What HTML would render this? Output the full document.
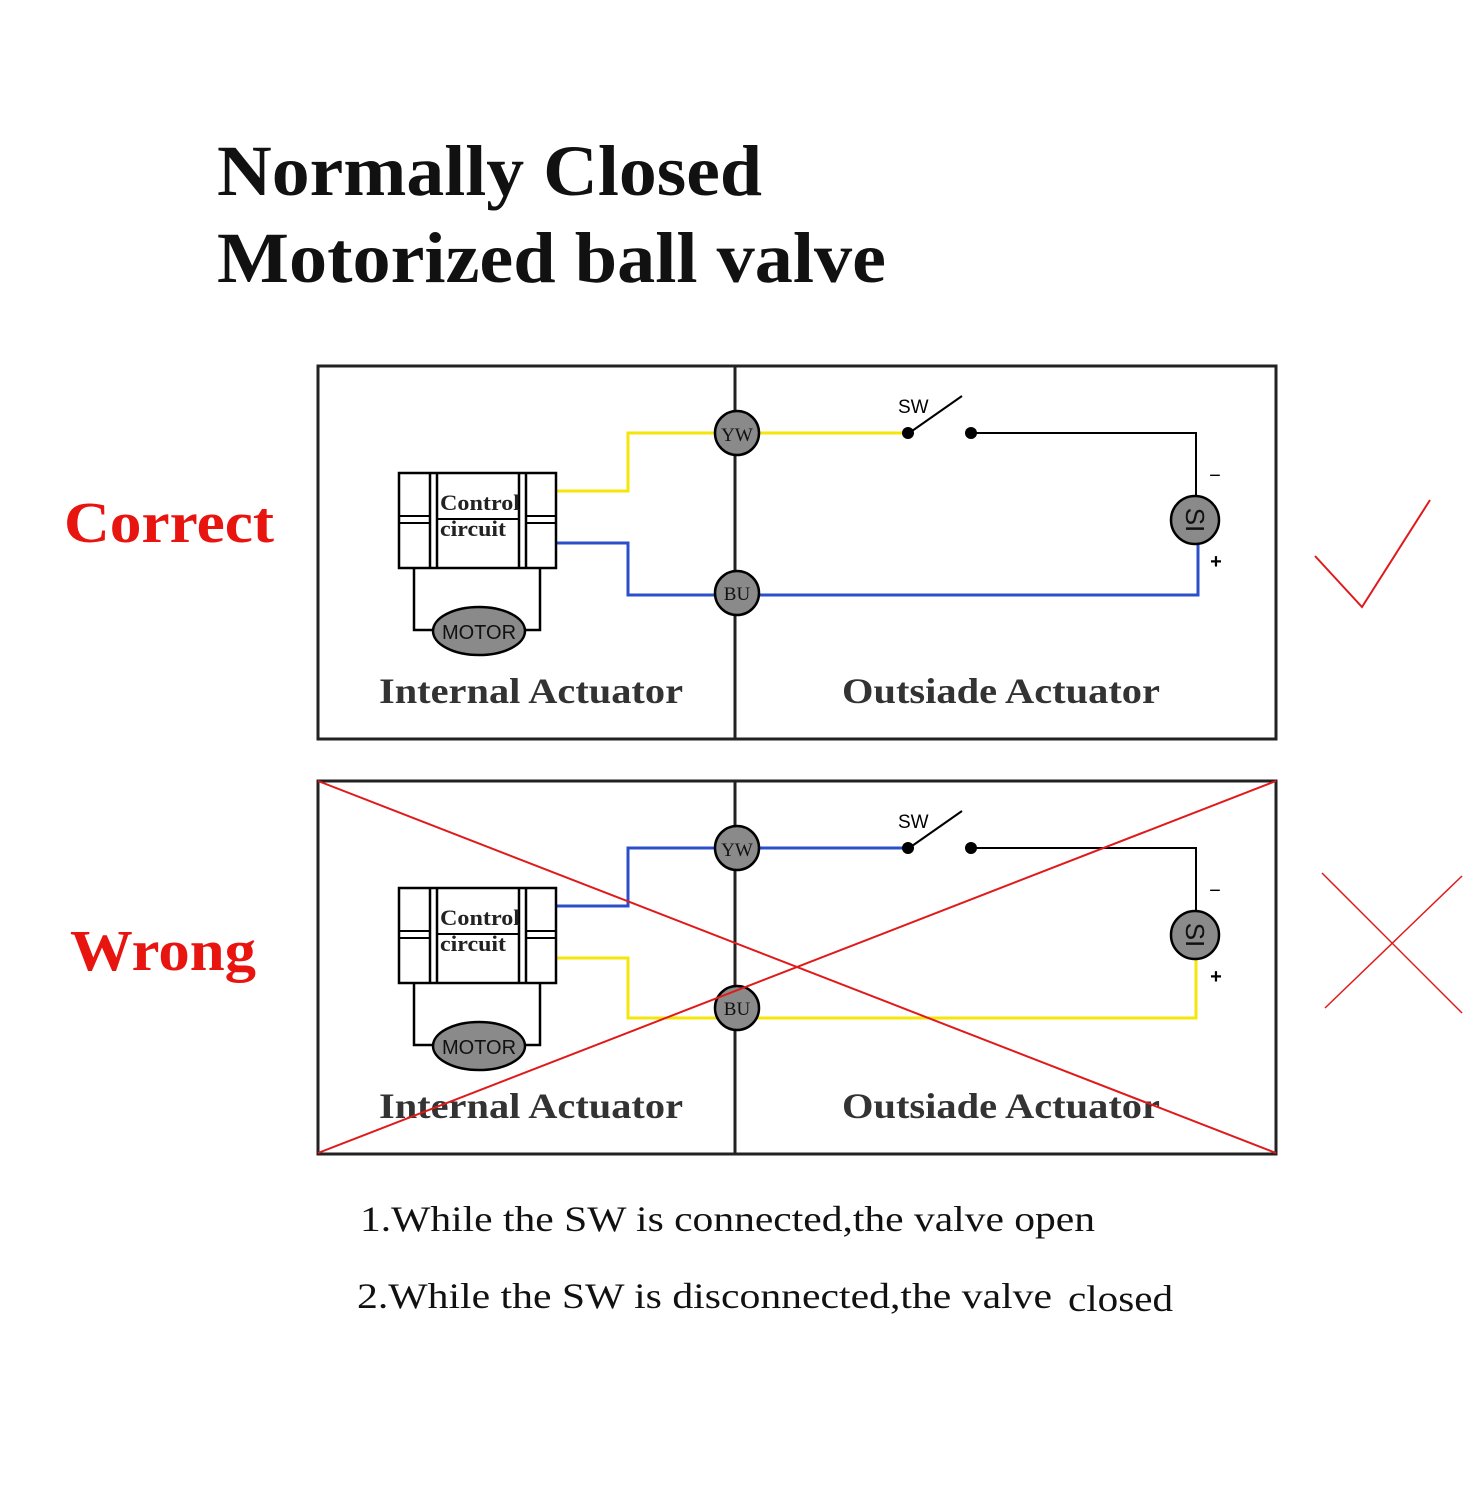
<!DOCTYPE html>
<html><head><meta charset="utf-8"><style>html,body{margin:0;padding:0;background:#fff}svg{display:block}</style></head>
<body>
<svg width="1466" height="1500" viewBox="0 0 1466 1500" xmlns="http://www.w3.org/2000/svg" font-family="Liberation Serif, serif">
<defs>
<g id="comp">
  <rect x="399" y="473" width="157" height="95" fill="#fff" stroke="#000" stroke-width="2.5"/>
  <line x1="430" y1="473" x2="430" y2="568" stroke="#000" stroke-width="2.5"/>
  <line x1="437" y1="473" x2="437" y2="568" stroke="#000" stroke-width="2.5"/>
  <line x1="519" y1="473" x2="519" y2="568" stroke="#000" stroke-width="2.5"/>
  <line x1="526" y1="473" x2="526" y2="568" stroke="#000" stroke-width="2.5"/>
  <line x1="437" y1="519" x2="519" y2="519" stroke="#000" stroke-width="2"/>
  <line x1="399" y1="516" x2="430" y2="516" stroke="#000" stroke-width="2"/>
  <line x1="399" y1="523" x2="430" y2="523" stroke="#000" stroke-width="2"/>
  <line x1="526" y1="516" x2="556" y2="516" stroke="#000" stroke-width="2"/>
  <line x1="526" y1="523" x2="556" y2="523" stroke="#000" stroke-width="2"/>
  <text x="440" y="510" font-size="22" font-weight="bold" fill="#222" textLength="80" lengthAdjust="spacingAndGlyphs">Control</text>
  <text x="440" y="536" font-size="22" font-weight="bold" fill="#222" textLength="66" lengthAdjust="spacingAndGlyphs">circuit</text>
  <polyline points="414,568 414,630 440,630" fill="none" stroke="#000" stroke-width="2.5"/>
  <polyline points="540,568 540,630 518,630" fill="none" stroke="#000" stroke-width="2.5"/>
  <ellipse cx="479" cy="631" rx="46" ry="24" fill="#8a8a8a" stroke="#000" stroke-width="2.5"/>
  <text x="479" y="639" font-size="20" text-anchor="middle" font-family="Liberation Sans, sans-serif" fill="#111">MOTOR</text>
</g>
<g id="right">
  <line x1="912" y1="431" x2="962" y2="396" stroke="#000" stroke-width="2"/>
  <text x="898" y="413" font-size="19" font-family="Liberation Sans, sans-serif">SW</text>
  <circle cx="908" cy="433" r="6" fill="#000"/>
  <circle cx="971" cy="433" r="6" fill="#000"/>
  <polyline points="971,433 1196,433 1196,498" fill="none" stroke="#000" stroke-width="2"/>
  <text x="1215" y="482" font-size="20" text-anchor="middle" font-family="Liberation Sans, sans-serif">−</text>
  <text x="1216" y="568" font-size="20" text-anchor="middle" font-family="Liberation Sans, sans-serif" font-weight="bold">+</text>
</g>
<g id="si">
  <circle cx="1195" cy="520" r="24" fill="#8a8a8a" stroke="#000" stroke-width="2.5"/>
  <text transform="translate(1195,520) rotate(90)" x="0" y="9" font-size="26" text-anchor="middle" font-family="Liberation Sans, sans-serif" fill="#111">SI</text>
</g>
</defs>

<text x="217" y="195" font-size="72" font-weight="bold" textLength="545" lengthAdjust="spacingAndGlyphs" fill="#111">Normally Closed</text>
<text x="217" y="282" font-size="72" font-weight="bold" textLength="669" lengthAdjust="spacingAndGlyphs" fill="#111">Motorized ball valve</text>

<text x="64" y="542" font-size="58" font-weight="bold" fill="#e8140f" textLength="210" lengthAdjust="spacingAndGlyphs">Correct</text>
<text x="70" y="970" font-size="58" font-weight="bold" fill="#e8140f" textLength="186" lengthAdjust="spacingAndGlyphs">Wrong</text>

<rect x="318" y="366" width="958" height="373" fill="none" stroke="#222" stroke-width="3"/>
<line x1="735" y1="366" x2="735" y2="739" stroke="#222" stroke-width="3"/>
<polyline points="556,491 628,491 628,433 908,433" fill="none" stroke="#f5e60a" stroke-width="3"/>
<polyline points="556,543 628,543 628,595 1198,595 1198,543" fill="none" stroke="#2b4fc9" stroke-width="3"/>
<use href="#comp"/>
<use href="#right"/>
<use href="#si"/>
<circle cx="737" cy="433" r="22" fill="#8a8a8a" stroke="#000" stroke-width="2.5"/>
<text x="737" y="441" font-size="19" text-anchor="middle" fill="#111">YW</text>
<circle cx="737" cy="593" r="22" fill="#8a8a8a" stroke="#000" stroke-width="2.5"/>
<text x="737" y="600" font-size="19" text-anchor="middle" fill="#111">BU</text>
<text x="531" y="703" font-size="36" font-weight="bold" text-anchor="middle" fill="#333" textLength="304" lengthAdjust="spacingAndGlyphs">Internal Actuator</text>
<text x="1001" y="703" font-size="36" font-weight="bold" text-anchor="middle" fill="#333" textLength="318" lengthAdjust="spacingAndGlyphs">Outsiade Actuator</text>

<g transform="translate(0,415)">
<rect x="318" y="366" width="958" height="373" fill="none" stroke="#222" stroke-width="3"/>
<line x1="735" y1="366" x2="735" y2="739" stroke="#222" stroke-width="3"/>
<polyline points="556,491 628,491 628,433 908,433" fill="none" stroke="#2b4fc9" stroke-width="3"/>
<polyline points="556,543 628,543 628,603 1196,603 1196,543" fill="none" stroke="#f5e60a" stroke-width="3"/>
<use href="#comp"/>
<use href="#right"/>
<use href="#si"/>
<circle cx="737" cy="433" r="22" fill="#8a8a8a" stroke="#000" stroke-width="2.5"/>
<text x="737" y="441" font-size="19" text-anchor="middle" fill="#111">YW</text>
<circle cx="737" cy="593" r="22" fill="#8a8a8a" stroke="#000" stroke-width="2.5"/>
<text x="737" y="600" font-size="19" text-anchor="middle" fill="#111">BU</text>
<text x="531" y="703" font-size="36" font-weight="bold" text-anchor="middle" fill="#333" textLength="304" lengthAdjust="spacingAndGlyphs">Internal Actuator</text>
<text x="1001" y="703" font-size="36" font-weight="bold" text-anchor="middle" fill="#333" textLength="318" lengthAdjust="spacingAndGlyphs">Outsiade Actuator</text>
</g>
<line x1="318" y1="781" x2="1276" y2="1153" stroke="#e01a1a" stroke-width="2"/>
<line x1="318" y1="1153" x2="1276" y2="781" stroke="#e01a1a" stroke-width="2"/>

<polyline points="1315,556 1362,607 1430,500" fill="none" stroke="#e01a1a" stroke-width="2"/>
<line x1="1322" y1="873" x2="1462" y2="1013" stroke="#e01a1a" stroke-width="1.5"/>
<line x1="1325" y1="1008" x2="1462" y2="876" stroke="#e01a1a" stroke-width="1.5"/>

<text x="360" y="1231" font-size="36" fill="#111" textLength="735" lengthAdjust="spacingAndGlyphs">1.While the SW is connected,the valve open</text>
<text x="357" y="1308" font-size="36" fill="#111" textLength="695" lengthAdjust="spacingAndGlyphs">2.While the SW is disconnected,the valve</text>
<text x="1068" y="1311" font-size="37" fill="#111" textLength="105" lengthAdjust="spacingAndGlyphs">closed</text>
</svg>
</body></html>
